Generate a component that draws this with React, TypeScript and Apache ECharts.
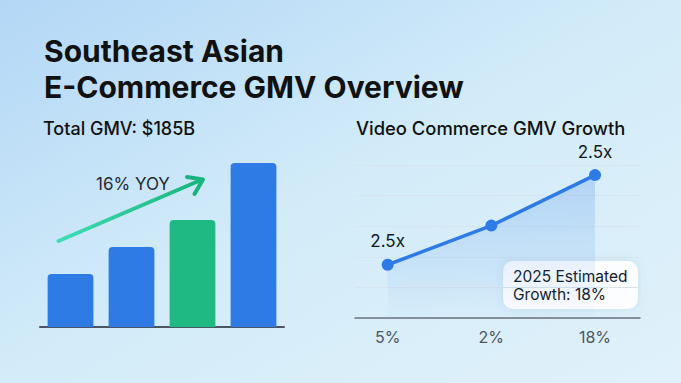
import React, { useEffect, useRef } from "react";
import * as echarts from "echarts";

const barCategories = ["2021", "2022", "2023", "2024"];
const barValues = [53, 80, 107, 164];
const barColors = ["#2F7BE6", "#2F7BE6", "#1FBA84", "#2F7BE6"];

const lineCategories = ["5%", "2%", "18%"];
const lineValues = [1.74, 3.02, 4.67];
const lineLabels = ["2.5x", "", "2.5x"];

const FONT = "Inter, 'Noto Sans', sans-serif";

export default function App() {
  const ref = useRef<HTMLDivElement>(null);
  useEffect(() => {
    if (!ref.current) return;
    const chart = echarts.init(ref.current, null, { renderer: "svg" });
    chart.setOption({
      animation: false,
      backgroundColor: {
        type: "linear",
        x: 0,
        y: 0,
        x2: 1,
        y2: 1,
        colorStops: [
          { offset: 0, color: "#B3D7F6" },
          { offset: 0.5, color: "#D3ECF9" },
          { offset: 1, color: "#E0F1FA" },
        ],
      },
      grid: [
        { left: 40, right: 397, top: 163, bottom: 56 },
        { left: 355, right: 41, top: 165, bottom: 65 },
      ],
      xAxis: [
        {
          gridIndex: 0,
          type: "category",
          data: barCategories,
          axisLine: { lineStyle: { color: "#4B5563", width: 2 } },
          axisTick: { show: false },
          axisLabel: { show: false },
        },
        {
          gridIndex: 1,
          type: "value",
          min: -0.315,
          max: 2.434,
          splitLine: { show: false },
          axisLine: { show: true, onZero: false, lineStyle: { color: "#6B7280", width: 1.5 } },
          axisTick: { show: false },
          axisLabel: {
            customValues: [0, 1, 2],
            formatter: (v: number) => lineCategories[Math.round(v)] ?? "",
            color: "#4B5563",
            fontFamily: FONT,
            fontSize: 16,
            margin: 11,
          },
        },
      ],
      yAxis: [
        {
          gridIndex: 0,
          type: "value",
          min: 0,
          max: 164,
          show: false,
        },
        {
          gridIndex: 1,
          type: "value",
          min: 0,
          max: 5,
          interval: 1,
          axisLine: { show: false },
          axisTick: { show: false },
          axisLabel: { show: false },
          splitLine: { lineStyle: { color: "#D6E4EE", width: 1 } },
        },
      ],
      series: [
        {
          type: "bar",
          xAxisIndex: 0,
          yAxisIndex: 0,
          barCategoryGap: "25%",
          data: barValues.map((v, i) => ({
            value: v,
            itemStyle: { color: barColors[i], borderRadius: [4, 4, 0, 0] },
          })),
        },
        {
          type: "line",
          xAxisIndex: 1,
          yAxisIndex: 1,
          data: lineValues.map((v, i) => [i, v]),
          symbol: "circle",
          symbolSize: 12,
          lineStyle: { color: "#2F7BE6", width: 3.5 },
          itemStyle: { color: "#2F7BE6" },
          label: {
            show: true,
            position: "top",
            distance: 9,
            formatter: (p: any) => lineLabels[p.dataIndex],
            color: "#111827",
            fontFamily: FONT,
            fontSize: 17,
          },
          areaStyle: {
            color: {
              type: "linear",
              x: 0,
              y: 0,
              x2: 0,
              y2: 1,
              colorStops: [
                { offset: 0, color: "rgba(47,123,230,0.32)" },
                { offset: 1, color: "rgba(47,123,230,0.02)" },
              ],
            },
          },
        },
      ],
      graphic: [
        {
          type: "text",
          left: 44,
          top: 33,
          style: {
            text: "Southeast Asian\nE-Commerce GMV Overview",
            font: `700 30px ${FONT}`,
            fill: "#111111",
            lineHeight: 36,
          },
        },
        {
          type: "text",
          left: 43,
          top: 119,
          style: { text: "Total GMV: $185B", font: `500 18px ${FONT}`, fill: "#111111" },
        },
        {
          type: "text",
          left: 356,
          top: 119,
          style: { text: "Video Commerce GMV Growth", font: `500 18.4px ${FONT}`, fill: "#111111" },
        },
        {
          type: "text",
          left: 96,
          top: 175,
          style: { text: "16% YOY", font: `400 17px ${FONT}`, fill: "#1F2937" },
        },
        {
          type: "line",
          shape: { x1: 58.5, y1: 241, x2: 201, y2: 180 },
          style: {
            lineWidth: 4,
            lineCap: "round",
            stroke: {
              type: "linear",
              x: 0,
              y: 0,
              x2: 1,
              y2: 0,
              colorStops: [
                { offset: 0, color: "#40DDB4" },
                { offset: 1, color: "#19B47C" },
              ],
            },
          },
        },
        {
          type: "polyline",
          shape: { points: [[187, 177], [203, 179.5], [194.5, 194]] },
          style: { lineWidth: 4, lineCap: "round", lineJoin: "round", stroke: "#19B47C", fill: null },
        },
        {
          type: "rect",
          shape: { x: 503, y: 261, width: 135, height: 48, r: 10 },
          style: {
            fill: "rgba(255,255,255,0.93)",
            shadowBlur: 8,
            shadowColor: "rgba(80,120,160,0.15)",
          },
        },
        {
          type: "text",
          x: 513,
          y: 276,
          style: {
            text: "2025 Estimated",
            font: `400 15.5px ${FONT}`,
            fill: "#111827",
            verticalAlign: "middle",
          },
        },
        {
          type: "text",
          x: 513,
          y: 294,
          style: {
            text: "Growth: 18%",
            font: `400 15.5px ${FONT}`,
            fill: "#111827",
            verticalAlign: "middle",
          },
        },
      ],
    });
    return () => chart.dispose();
  }, []);
  return (
    <div
      ref={ref}
      style={{ position: "absolute", left: 0, top: 0, width: 681, height: 383 }}
    />
  );
}
